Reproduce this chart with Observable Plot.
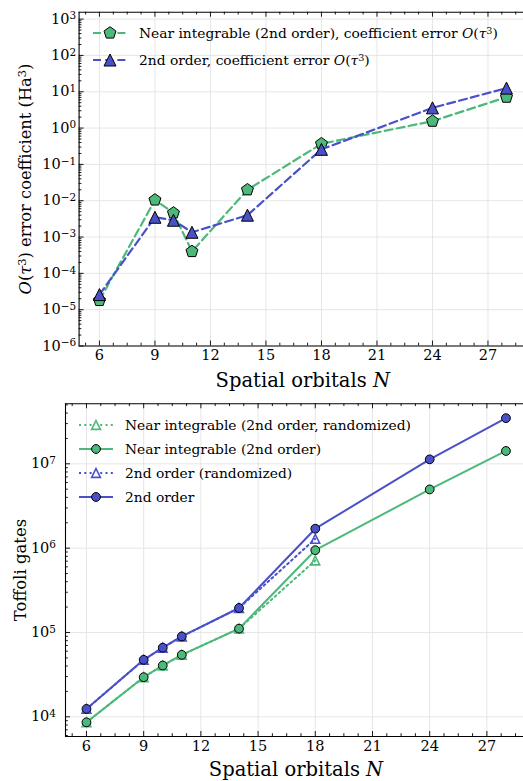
<!DOCTYPE html>
<html><head><meta charset="utf-8">
<script src="https://cdn.jsdelivr.net/npm/d3@7"></script>
<script src="https://cdn.jsdelivr.net/npm/@observablehq/plot@0.6"></script>
<style>
html,body{margin:0;padding:0;background:#fff;}
body{width:523px;height:781px;overflow:hidden;font-family:"DejaVu Serif",serif;color:#000;}
#wrap{position:relative;width:523px;height:781px;}
#wrap svg{display:block;}
.ov{position:absolute;white-space:nowrap;line-height:1;}
.lbl{font-size:19.5px;}
.leg{position:absolute;font-size:13.8px;line-height:18px;height:18px;white-space:nowrap;}
.sup{position:relative;top:-0.45em;font-size:0.7em;}
</style></head><body><div id="wrap"></div>
<script>
// ---------------- data ----------------
const N = [6, 9, 10, 11, 14, 18, 24, 28];
const errNearIntegrable = [1.8e-5, 1.05e-2, 4.6e-3, 4.0e-4, 2.0e-2, 0.37, 1.55, 7.1];
const err2ndOrder       = [2.6e-5, 3.5e-3, 2.9e-3, 1.35e-3, 4.0e-3, 0.26, 3.6, 12.6];
const toffNearIntegrable = [8.6e3, 2.95e4, 4.06e4, 5.43e4, 1.11e5, 9.46e5, 4.97e6, 1.42e7];
const toff2ndOrder       = [1.24e4, 4.74e4, 6.6e4, 8.97e4, 1.95e5, 1.70e6, 1.13e7, 3.48e7];
const NRand = [6, 9, 10, 11, 14, 18];
const toffNearIntegrableRand = [8.6e3, 2.95e4, 4.06e4, 5.43e4, 1.11e5, 7.15e5];
const toff2ndOrderRand       = [1.24e4, 4.74e4, 6.6e4, 8.97e4, 1.95e5, 1.29e6];
const xTicks = [6, 9, 12, 15, 18, 21, 24, 27];
const topYTicks = [1e-6, 1e-5, 1e-4, 1e-3, 1e-2, 1e-1, 1e0, 1e1, 1e2, 1e3];
const botYTicks = [1e4, 1e5, 1e6, 1e7];
const topLegend = ["Near integrable (2nd order), coefficient error ", "2nd order, coefficient error "];
const botLegend = ["Near integrable (2nd order, randomized)", "Near integrable (2nd order)", "2nd order (randomized)", "2nd order"];

// ---------------- style ----------------
const FONT = "DejaVu Serif, serif";
const GREEN = "#4cb97a", BLUE = "#4a51c8", GRID = "#e3e3e3";
const W = 523;
const xDomain = [4.9, 28.92];
const xMinor = d3.range(4.5, 29.1, 0.75).filter(v => v > xDomain[0] && v < xDomain[1] && !xTicks.includes(v));
function logMinor(lo, hi, dom) {
  const out = [];
  for (let e = lo; e <= hi; e++) for (let m = 2; m <= 9; m++) {
    const v = m * Math.pow(10, e);
    if (v > dom[0] && v < dom[1]) out.push(v);
  }
  return out;
}
const pentagon = {draw(ctx, size) {
  const R = Math.sqrt(size / Math.PI);
  for (let i = 0; i < 5; i++) {
    const a = -Math.PI / 2 + i * 2 * Math.PI / 5;
    const x = R * Math.cos(a), y = R * Math.sin(a);
    if (i) ctx.lineTo(x, y); else ctx.moveTo(x, y);
  }
  ctx.closePath();
}};
const triUp = {draw(ctx, size) {
  const h = Math.sqrt(size / Math.PI);
  ctx.moveTo(0, -h); ctx.lineTo(h, h); ctx.lineTo(-h, h); ctx.closePath();
}};

const rowsTopG = N.map((n, i) => ({n, v: errNearIntegrable[i]}));
const rowsTopB = N.map((n, i) => ({n, v: err2ndOrder[i]}));
const rowsG = N.map((n, i) => ({n, v: toffNearIntegrable[i]}));
const rowsB = N.map((n, i) => ({n, v: toff2ndOrder[i]}));
const rowsGR = NRand.map((n, i) => ({n, v: toffNearIntegrableRand[i]}));
const rowsBR = NRand.map((n, i) => ({n, v: toff2ndOrderRand[i]}));

function frameMarks(plotW, plotH, yTicks, yMinor, yDomain, majorLen, minorLen, yPad) {
  const k = {stroke: "#000", strokeWidth: 0.9};
  return [
    Plot.ruleX([xDomain[0]], {stroke: "#000", strokeWidth: 1.1}),
    Plot.ruleY([yDomain[0]], {stroke: "#000", strokeWidth: 1.1}),
    Plot.ruleY([yDomain[1]], {stroke: "#000", strokeWidth: 1.1}),
    Plot.tickX(xTicks, {x: d => d, insetTop: plotH - majorLen, ...k}),
    Plot.tickX(xTicks, {x: d => d, insetBottom: plotH - majorLen, ...k}),
    Plot.tickX(xMinor, {x: d => d, insetTop: plotH - minorLen, ...k}),
    Plot.tickX(xMinor, {x: d => d, insetBottom: plotH - minorLen, ...k}),
    Plot.tickY(yTicks, {y: d => d, insetRight: plotW - majorLen, ...k}),
    Plot.tickY(yMinor, {y: d => d, insetRight: plotW - minorLen, ...k}),
    Plot.axisX(xTicks, {anchor: "bottom", tickSize: 0, tickPadding: 4, fontSize: 14.5, label: null}),
    Plot.axisY(yTicks, {anchor: "left", tickSize: 0, tickPadding: yPad, fontSize: 14.5, label: null,
      tickFormat: d => "10^" + Math.round(Math.log10(d))})
  ];
}

function fixSup(svg) {
  svg.querySelectorAll("text").forEach(t => {
    const m = (t.textContent || "").match(/^10\^(-?\d+)$/);
    if (!m) return;
    t.textContent = "10";
    const ts = document.createElementNS("http://www.w3.org/2000/svg", "tspan");
    ts.setAttribute("dy", "-0.42em");
    ts.setAttribute("font-size", "0.72em");
    ts.textContent = m[1].replace("-", "\u2212");
    t.appendChild(ts);
  });
}

// ---------------- top panel ----------------
const tML = 78.6, tMT = 11.7, tH = 395, tMB = 49.5;
const tPW = W - tML, tPH = tH - tMT - tMB;
const topYDomain = [1e-6, 1.55e3];
const topPlot = Plot.plot({
  width: W, height: tH, marginLeft: tML, marginRight: 0, marginTop: tMT, marginBottom: tMB,
  style: {fontFamily: FONT, fontSize: "14.5px", background: "#fff", color: "#000", overflow: "visible"},
  x: {domain: xDomain},
  y: {type: "log", domain: topYDomain},
  marks: [
    Plot.gridX(xTicks, {stroke: GRID, strokeOpacity: 1, strokeWidth: 0.9}),
    Plot.gridY(topYTicks, {stroke: GRID, strokeOpacity: 1, strokeWidth: 0.9}),
    Plot.line(rowsTopG, {x: "n", y: "v", stroke: GREEN, strokeWidth: 2.2, strokeDasharray: "8,4.2"}),
    Plot.dot(rowsTopG, {x: "n", y: "v", symbol: pentagon, r: 6.3, fill: GREEN, stroke: "#000", strokeWidth: 1}),
    Plot.line(rowsTopB, {x: "n", y: "v", stroke: BLUE, strokeWidth: 2.2, strokeDasharray: "8,4.2"}),
    Plot.dot(rowsTopB, {x: "n", y: "v", symbol: triUp, r: 6, fill: BLUE, stroke: "#000", strokeWidth: 1}),
    ...frameMarks(tPW, tPH, topYTicks, logMinor(-6, 2, topYDomain), topYDomain, 5, 2.8, 3)
  ]
});
fixSup(topPlot);

// ---------------- bottom panel ----------------
const bML = 65, bMT = 8.3, bH = 386, bMB = 45;
const bPW = W - bML, bPH = bH - bMT - bMB;
const botYDomain = [5840, 5.15e7];
const botPlot = Plot.plot({
  width: W, height: bH, marginLeft: bML, marginRight: 0, marginTop: bMT, marginBottom: bMB,
  style: {fontFamily: FONT, fontSize: "14.5px", background: "#fff", color: "#000", overflow: "visible"},
  x: {domain: xDomain},
  y: {type: "log", domain: botYDomain},
  marks: [
    Plot.gridX(xTicks, {stroke: GRID, strokeOpacity: 1, strokeWidth: 0.9}),
    Plot.gridY(botYTicks, {stroke: GRID, strokeOpacity: 1, strokeWidth: 0.9}),
    Plot.line(rowsGR, {x: "n", y: "v", stroke: GREEN, strokeWidth: 2, strokeDasharray: "2,3.3"}),
    Plot.dot(rowsGR, {x: "n", y: "v", symbol: triUp, r: 4.4, fill: "none", stroke: GREEN, strokeWidth: 1.6}),
    Plot.line(rowsG, {x: "n", y: "v", stroke: GREEN, strokeWidth: 2}),
    Plot.dot(rowsG, {x: "n", y: "v", r: 4.4, fill: GREEN, stroke: "#000", strokeWidth: 1}),
    Plot.line(rowsBR, {x: "n", y: "v", stroke: BLUE, strokeWidth: 2, strokeDasharray: "2,3.3"}),
    Plot.dot(rowsBR, {x: "n", y: "v", symbol: triUp, r: 4.4, fill: "none", stroke: BLUE, strokeWidth: 1.6}),
    Plot.line(rowsB, {x: "n", y: "v", stroke: BLUE, strokeWidth: 2}),
    Plot.dot(rowsB, {x: "n", y: "v", r: 4.4, fill: BLUE, stroke: "#000", strokeWidth: 1}),
    ...frameMarks(bPW, bPH, botYTicks, logMinor(3, 7, botYDomain), botYDomain, 5, 2.8, 9.5)
  ]
});
fixSup(botPlot);

const wrap = document.getElementById("wrap");
wrap.appendChild(topPlot);
wrap.appendChild(botPlot);

// ---------------- overlays: axis labels ----------------
function addDiv(html, cls, css) {
  const d = document.createElement("div");
  d.className = cls; d.innerHTML = html;
  Object.assign(d.style, css);
  wrap.appendChild(d);
  return d;
}
const tau3 = '<i>O</i>(<i>τ</i><span class="sup">3</span>)';
addDiv('Spatial orbitals <i>N</i>', "ov lbl", {left: (tML + 527) / 2 + "px", top: "381px", transform: "translate(-50%,-50%)"});
addDiv('Spatial orbitals <i>N</i>', "ov lbl", {left: (bML + 527) / 2 + "px", top: "770px", transform: "translate(-50%,-50%)"});
addDiv(tau3 + ' error coefficient (Ha<span class="sup">3</span>)', "ov",
  {fontSize: "16.3px", left: "26px", top: "179px", transform: "translate(-50%,-50%) rotate(-90deg)"});
addDiv('Toffoli gates', "ov", {fontSize: "16.5px", left: "21px", top: "570px", transform: "translate(-50%,-50%) rotate(-90deg)"});

// ---------------- overlays: legends ----------------
const NS = "http://www.w3.org/2000/svg";
function swatch(x0, x1, cy, color, dash, marker) {
  const s = document.createElementNS(NS, "svg");
  s.setAttribute("width", 60); s.setAttribute("height", 24);
  s.style.position = "absolute"; s.style.left = (x0 - 10) + "px"; s.style.top = (cy - 12) + "px"; s.style.overflow = "visible";
  const ln = document.createElementNS(NS, "line");
  ln.setAttribute("x1", 10); ln.setAttribute("x2", 10 + x1 - x0); ln.setAttribute("y1", 12); ln.setAttribute("y2", 12);
  ln.setAttribute("stroke", color); ln.setAttribute("stroke-width", 2.2);
  if (dash) ln.setAttribute("stroke-dasharray", dash);
  s.appendChild(ln);
  const mx = 10 + (x1 - x0) / 2, my = 12;
  let m;
  if (marker.type === "circle") {
    m = document.createElementNS(NS, "circle");
    m.setAttribute("cx", mx); m.setAttribute("cy", my); m.setAttribute("r", marker.r);
  } else {
    m = document.createElementNS(NS, "path");
    let d = "";
    if (marker.type === "pentagon") {
      for (let i = 0; i < 5; i++) {
        const a = -Math.PI / 2 + i * 2 * Math.PI / 5;
        d += (i ? "L" : "M") + (mx + marker.r * Math.cos(a)) + "," + (my + marker.r * Math.sin(a));
      }
    } else {
      const h = marker.r;
      d = `M${mx},${my - h}L${mx + h},${my + h}L${mx - h},${my + h}`;
    }
    m.setAttribute("d", d + "Z");
  }
  m.setAttribute("fill", marker.fill); m.setAttribute("stroke", marker.stroke); m.setAttribute("stroke-width", marker.sw);
  s.appendChild(m);
  wrap.appendChild(s);
}
const topLegY = [33.3, 60];
swatch(93, 127, topLegY[0], GREEN, "8,4.2", {type: "pentagon", r: 6.3, fill: GREEN, stroke: "#000", sw: 1});
swatch(93, 127, topLegY[1], BLUE, "8,4.2", {type: "tri", r: 6, fill: BLUE, stroke: "#000", sw: 1});
topLegend.forEach((t, i) => addDiv(t + tau3, "leg", {left: "139px", top: (topLegY[i] - 9) + "px"}));

const botLegY = [425, 449.3, 472.7, 496.7];
const botSw = [
  [GREEN, "2,3.3", {type: "tri", r: 4.4, fill: "#fff", stroke: GREEN, sw: 1.6}],
  [GREEN, null, {type: "circle", r: 4.4, fill: GREEN, stroke: "#000", sw: 1}],
  [BLUE, "2,3.3", {type: "tri", r: 4.4, fill: "#fff", stroke: BLUE, sw: 1.6}],
  [BLUE, null, {type: "circle", r: 4.4, fill: BLUE, stroke: "#000", sw: 1}]
];
botSw.forEach((s, i) => swatch(79, 113, botLegY[i], s[0], s[1], s[2]));
botLegend.forEach((t, i) => addDiv(t, "leg", {left: "125px", top: (botLegY[i] - 9) + "px"}));
</script></body></html>
